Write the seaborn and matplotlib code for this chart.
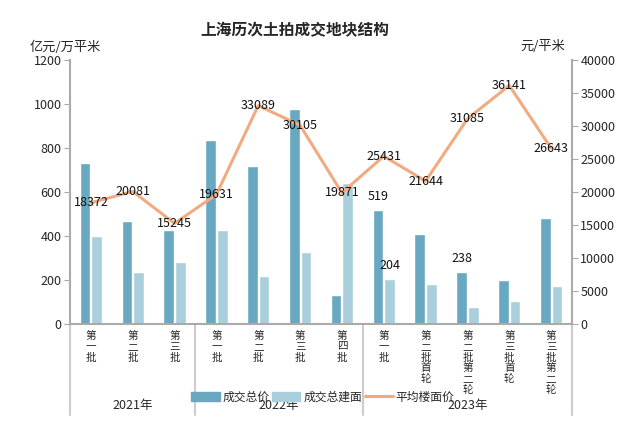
import numpy as np
import pandas as pd
import seaborn as sns
import matplotlib.pyplot as plt
from matplotlib.patches import Patch
from matplotlib.lines import Line2D

# data
batches = ["第一批", "第二批", "第三批",
           "第一批", "第二批", "第三批", "第四批",
           "第一批", "第二批首轮", "第二批第二轮", "第三批首轮", "第三批第二轮"]
years = ["2021年", "2022年", "2023年"]
year_sizes = [3, 4, 5]
total_price = [732, 468, 427, 836, 717, 977, 132, 519, 409, 238, 200, 480]   # 亿元
total_area = [400, 236, 282, 427, 218, 327, 639, 204, 182, 77, 105, 173]     # 万平米
avg_price = [18372, 20081, 15245, 19631, 33089, 30105, 19871,
             25431, 21644, 31085, 36141, 26643]                             # 元/平米

c_dark = "#68a8c0"
c_light = "#a9cfdc"
c_line = "#f2ab80"

sns.set_style("white")
plt.rcParams['font.family'] = ['Noto Sans CJK SC', 'DejaVu Sans']
plt.rcParams['axes.unicode_minus'] = False

keys = [f"k{i}" for i in range(len(batches))]
df = pd.DataFrame({
    "key": keys * 2,
    "value": total_price + total_area,
    "series": ["成交总价"] * len(keys) + ["成交总建面"] * len(keys),
})

fig = plt.figure(figsize=(6.2, 4.25), dpi=100)
ax_h = 264  # axes height in px
ax = fig.add_axes([70 / 620, 1 - 324 / 425, 502 / 620, ax_h / 425])

sns.barplot(data=df, x="key", y="value", hue="series", order=keys,
            palette=[c_dark, c_light], width=0.56, gap=0.08,
            saturation=1, legend=False, ax=ax)
ax.set_ylim(0, 1200)
ax.set_yticks(range(0, 1201, 200))
ax.set_xlim(-0.5, len(keys) - 0.5)
ax.set_xlabel("")
ax.set_ylabel("")

ax2 = ax.twinx()
sns.lineplot(x=np.arange(len(keys)), y=avg_price, color=c_line, linewidth=2.2, ax=ax2)
ax2.set_ylim(0, 40000)
ax2.set_yticks(range(0, 40001, 5000))

for i, v in enumerate(avg_price):
    ax2.text(i, v, str(v), ha="center", va="center", fontsize=9, color="#111111")

# only some bar labels are displayed in the original
bar_w = 0.28
ax.text(7 - bar_w / 2, 519 + 60, "519", ha="center", va="center", fontsize=9, color="#111111")
ax.text(7 + bar_w / 2, 204 + 60, "204", ha="center", va="center", fontsize=9, color="#111111")
ax.text(9 - bar_w / 2, 238 + 60, "238", ha="center", va="center", fontsize=9, color="#111111")

for a in (ax, ax2):
    a.spines["top"].set_visible(False)
    for s in ["left", "right", "bottom"]:
        a.spines[s].set_color("#aaaaaa")
        a.spines[s].set_linewidth(1.5)
ax.spines["right"].set_visible(False)
ax2.spines["left"].set_visible(False)
ax2.spines["bottom"].set_visible(False)
ax.tick_params(axis="y", length=4, color="#aaaaaa", labelsize=9, pad=2)
ax2.tick_params(axis="y", length=4, color="#aaaaaa", labelsize=9, pad=2)
ax.set_xticks([])

# vertical category labels, one character per row
trans = ax.get_xaxis_transform()
for i, b in enumerate(batches):
    for j, ch in enumerate(b):
        ax.text(i, -(12 + 10.8 * j) / ax_h, ch, transform=trans,
                ha="center", va="center", fontsize=7.6)

# group separators and year labels below the axis
edges = np.cumsum([0] + year_sizes) - 0.5
for e in edges:
    ax.plot([e, e], [0, -0.345], transform=trans, color="#cccccc", lw=1.5, clip_on=False)
for y_lab, a0, a1 in zip(years, edges[:-1], edges[1:]):
    ax.text((a0 + a1) / 2, -0.307, y_lab, transform=trans, ha="center", va="center", fontsize=9)

handles = [Patch(color=c_dark), Patch(color=c_light), Line2D([], [], color=c_line, lw=2.2)]
ax.legend(handles, ["成交总价", "成交总建面", "平均楼面价"], ncol=3, frameon=False,
          loc="center", bbox_to_anchor=(0.504, -0.277), fontsize=8.5,
          handlelength=2.4, handleheight=0.9, handletextpad=0.25, columnspacing=0.2)

fig.text(295 / 620, 1 - 30 / 425, "上海历次土拍成交地块结构", ha="center", va="center",
         fontsize=11.3, fontweight="bold")
fig.text(30 / 620, 1 - 47 / 425, "亿元/万平米", ha="left", va="center", fontsize=9.5)
fig.text(565 / 620, 1 - 47 / 425, "元/平米", ha="right", va="center", fontsize=9.5)

fig.savefig("out.png", dpi=100)
